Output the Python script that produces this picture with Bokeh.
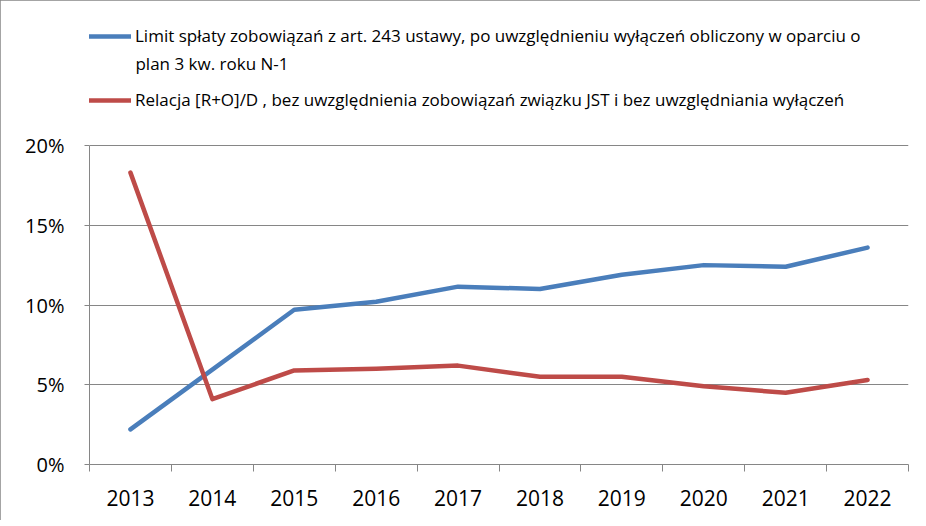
from bokeh.plotting import figure
from bokeh.models import FixedTicker, Legend, LegendItem, Label, Range1d
from bokeh.embed import file_html
from bokeh.resources import INLINE

years = ["2013", "2014", "2015", "2016", "2017", "2018", "2019", "2020", "2021", "2022"]
limit_vals = [2.2, 5.95, 9.7, 10.2, 11.15, 11.0, 11.9, 12.5, 12.4, 13.6]
relacja_vals = [18.3, 4.1, 5.9, 6.0, 6.2, 5.5, 5.5, 4.9, 4.5, 5.3]
y_ticks = [0, 5, 10, 15, 20]
y_tick_labels = ["0%", "5%", "10%", "15%", "20%"]
label_limit_1 = "Limit spłaty zobowiązań z art. 243 ustawy, po uwzględnieniu wyłączeń obliczony w oparciu o"
label_limit_2 = "plan 3 kw. roku N-1"
label_relacja = "Relacja [R+O]/D , bez uwzględnienia zobowiązań związku JST i bez uwzględniania wyłączeń"

FONT = "Open Sans"
GRID = "#868686"
BLUE = "#4A7EBB"
RED = "#BE4B48"

W, H = 920, 520
LEFT, RIGHT, TOP_AXIS, BOTTOM = 89, 908, 145, 464
FRAME_TOP = 8
px_per_unit = (BOTTOM - TOP_AXIS) / 20.0
y_end = 20 + (TOP_AXIS - FRAME_TOP) / px_per_unit

xs = [i + 0.5 for i in range(len(years))]

p = figure(width=W, height=H, output_backend="svg", toolbar_location=None,
           x_range=Range1d(0, len(years)), y_range=Range1d(0, y_end),
           min_border_left=LEFT, min_border_right=W - RIGHT,
           min_border_top=FRAME_TOP, min_border_bottom=H - BOTTOM)
p.outline_line_color = None
p.styles = {"outline": "1px solid #868686", "outline-offset": "-1px"}

r_blue = p.line(xs, limit_vals, line_color=BLUE, line_width=4.5, line_cap="round", line_join="round")
r_red = p.line(xs, relacja_vals, line_color=RED, line_width=4.5, line_cap="round", line_join="round")

# x axis: labels at category centres, tick marks at category boundaries
xa = p.xaxis[0]
xa.ticker = FixedTicker(ticks=xs, minor_ticks=list(range(len(years) + 1)))
xa.major_label_overrides = {x: y for x, y in zip(xs, years)}
xa.major_tick_line_color = None
xa.major_tick_out = 0
xa.major_tick_in = 0
xa.minor_tick_out = 7
xa.minor_tick_in = 0
xa.minor_tick_line_color = GRID
xa.axis_line_color = GRID
xa.major_label_text_font = FONT
xa.major_label_text_font_size = "21px"
xa.major_label_text_color = "black"
xa.major_label_standoff = 18

ya = p.yaxis[0]
ya.ticker = FixedTicker(ticks=y_ticks, minor_ticks=[])
ya.bounds = (0, 20)
ya.major_label_overrides = {t: l for t, l in zip(y_ticks, y_tick_labels)}
ya.major_tick_out = 5
ya.major_tick_in = 0
ya.major_tick_line_color = GRID
ya.axis_line_color = GRID
ya.major_label_text_font = FONT
ya.major_label_text_font_size = "20px"
ya.major_label_text_color = "black"
ya.major_label_standoff = 20

p.xgrid.grid_line_color = None
p.ygrid.grid_line_color = GRID
p.ygrid.ticker = FixedTicker(ticks=y_ticks)

legend = Legend(items=[LegendItem(label=label_limit_1, renderers=[r_blue]),
                       LegendItem(label=label_relacja, renderers=[r_red])],
                location=(-11, BOTTOM - 111), orientation="vertical",
                glyph_width=53, glyph_height=20, label_height=20, spacing=41,
                label_standoff=4, padding=0, margin=0,
                border_line_color=None, background_fill_alpha=0,
                label_text_font=FONT, label_text_font_size="17px", label_text_color="black")
p.add_layout(legend, "center")

p.add_layout(Label(x=0.5, y=20 + (TOP_AXIS - 63) / px_per_unit, x_offset=5, text=label_limit_2,
                   text_font=FONT, text_font_size="17px", text_color="black",
                   text_baseline="middle"))

open("out.html", "w").write(file_html(p, INLINE))
